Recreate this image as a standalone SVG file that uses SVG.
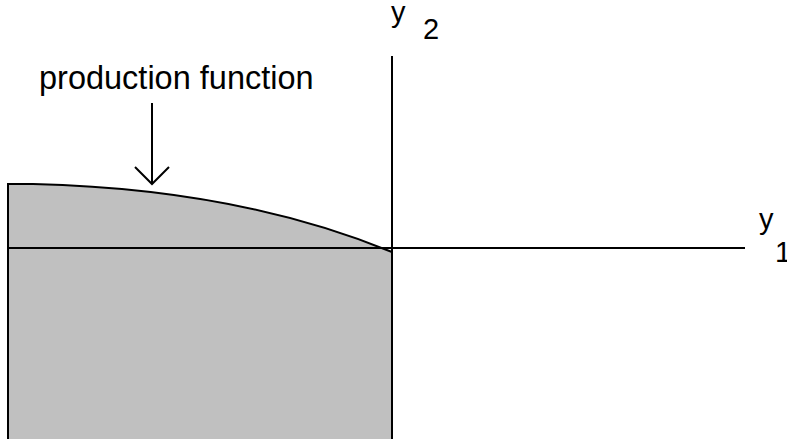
<svg xmlns="http://www.w3.org/2000/svg" width="787" height="439" viewBox="0 0 787 439">
<style>
.ln{stroke:#000;stroke-width:2;fill:none}
.t{font-family:"Liberation Sans",Arial,sans-serif;fill:#000}
</style>
<rect width="787" height="439" fill="#fff"/>
<g id="region">
<path d="M8,439 L8,184 L33,184 C120,186 258,197 392,252 L392,439 Z" fill="#c0c0c0" stroke="none"/>
<path class="ln" d="M8,439 L8,184 L33,184 C120,186 258,197 392,252"/>
</g>
<g id="connectors">
<line class="ln" x1="8" y1="248" x2="745" y2="248"/>
<line class="ln" x1="392" y1="56" x2="392" y2="439"/>
<path class="ln" d="M152,103 L152,184 M135,167 L152,184 L169,167"/>
</g>
<g id="label-production">
<text class="t" x="39" y="89" font-size="32.5">production function</text>
</g>
<g id="label-y2">
<text class="t" x="391" y="22" font-size="29">y</text>
<text class="t" x="423" y="39" font-size="29">2</text>
</g>
<g id="label-y1">
<text class="t" x="759" y="229" font-size="29">y</text>
<text class="t" x="775" y="262" font-size="29">1</text>
</g>
</svg>
